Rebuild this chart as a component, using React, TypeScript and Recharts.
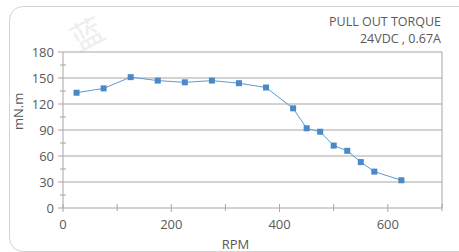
import { LineChart, Line, XAxis, YAxis, ReferenceLine } from 'recharts';

const rpm = [25, 75, 125, 175, 225, 275, 325, 375, 425, 450, 475, 500, 525, 550, 575, 625];
const torque = [133, 138, 151, 147, 145, 147, 144, 139, 115, 92, 88, 72, 66, 53, 42, 32];

const yTicks = [0, 15, 30, 45, 60, 75, 90, 105, 120, 135, 150, 165, 180];
const yLabels = [0, 30, 60, 90, 120, 150, 180];
const xTicks = [0, 100, 200, 300, 400, 500, 600, 700];
const xLabels = [0, 200, 400, 600];

const data = rpm.map((r, i) => ({ rpm: r, torque: torque[i] }));

const FONT = '"Open Sans", "Noto Sans", sans-serif';
const TEXT = '#595959';
const AXIS = '#a6a6a6';

const YTick = (props: any) => {
  const { x, y, payload } = props;
  const major = yLabels.includes(payload.value);
  return (
    <g>
      {major ? (
        <line x1={x - 5} x2={x} y1={y} y2={y} stroke={AXIS} />
      ) : (
        <line x1={x - 3} x2={x + 3} y1={y} y2={y} stroke={AXIS} />
      )}
      {major && (
        <text x={x - 9} y={y} dy="0.36em" textAnchor="end" fill={TEXT} fontSize={13} fontFamily={FONT}>
          {payload.value}
        </text>
      )}
    </g>
  );
};

const XTick = (props: any) => {
  const { x, y, payload } = props;
  const major = xLabels.includes(payload.value);
  return (
    <g>
      <line x1={x} x2={x} y1={y - 4} y2={y + (major ? 4 : 3)} stroke={AXIS} />
      {major && (
        <text x={x} y={y + 21} textAnchor="middle" fill={TEXT} fontSize={13} fontFamily={FONT}>
          {payload.value}
        </text>
      )}
    </g>
  );
};

const SquareDot = (props: any) => {
  const { cx, cy } = props;
  return <rect x={cx - 3} y={cy - 3} width={6} height={6} fill="#4a89c8" />;
};

export default function App() {
  return (
    <div style={{ position: 'absolute', left: 0, top: 0, width: 459, height: 252, background: '#fff', overflow: 'hidden', fontFamily: FONT }}>
      <div style={{ position: 'absolute', left: 9, top: 6, width: 470, height: 244, border: '1px solid #d4d4d4', borderRadius: 14 }} />
      <div style={{ position: 'absolute', left: 70, top: 14, fontSize: 32, lineHeight: '36px', color: '#eeeeee', transform: 'rotate(-28deg)', fontFamily: '"Noto Sans CJK SC"' }}>蓝</div>
      <div style={{ position: 'absolute', right: 18, top: 13, textAlign: 'right', fontSize: 12.5, lineHeight: '17px', color: TEXT }}>
        <div>PULL OUT TORQUE</div>
        <div>24VDC , 0.67A</div>
      </div>
      <div style={{ position: 'absolute', left: 0, top: 0 }}>
        <LineChart width={459} height={252} data={data} margin={{ top: 52, right: 17, bottom: 0, left: 0 }}>
          {yLabels.filter((v) => v > 0).map((v) => (
            <ReferenceLine key={v} y={v} stroke={AXIS} strokeWidth={1} />
          ))}
          <ReferenceLine x={700} stroke={AXIS} strokeWidth={1} />
          <XAxis
            type="number"
            dataKey="rpm"
            domain={[0, 700]}
            ticks={xTicks}
            interval={0}
            tick={<XTick />}
            tickLine={false}
            tickSize={0}
            tickMargin={0}
            stroke={AXIS}
            height={44}
            label={{ value: 'RPM', position: 'insideBottom', offset: 3, fill: TEXT, fontSize: 13, fontFamily: FONT, dx: -17 }}
          />
          <YAxis
            type="number"
            domain={[0, 180]}
            ticks={yTicks}
            interval={0}
            tick={<YTick />}
            tickLine={false}
            tickSize={0}
            tickMargin={0}
            stroke={AXIS}
            width={63}
            label={{ value: 'mN.m', angle: -90, position: 'insideLeft', offset: 18, fill: TEXT, fontSize: 13, fontFamily: FONT }}
          />
          <Line
            type="linear"
            dataKey="torque"
            stroke="#5b9bd5"
            strokeWidth={1}
            dot={<SquareDot />}
            activeDot={false}
            isAnimationActive={false}
          />
        </LineChart>
      </div>
    </div>
  );
}
